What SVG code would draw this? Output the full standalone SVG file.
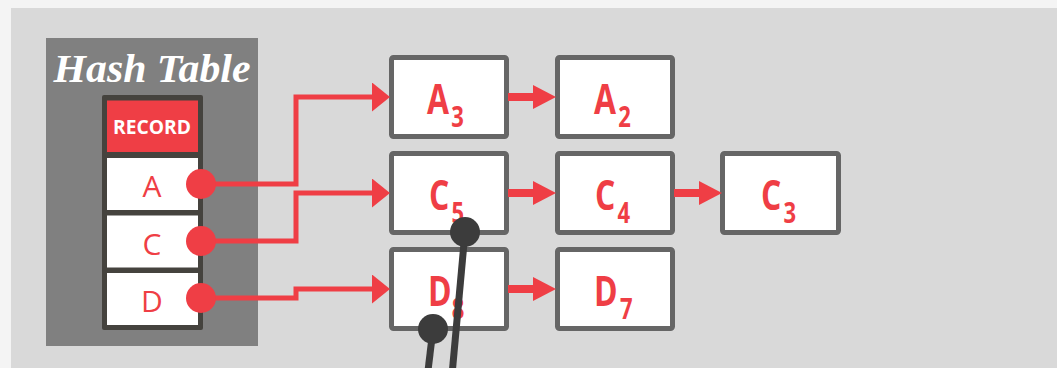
<svg xmlns="http://www.w3.org/2000/svg" width="1057" height="368" viewBox="0 0 1057 368">
<defs>
<style>
.box{fill:#fff;stroke:#666;stroke-width:5}
.cell{fill:#fff}
.lbl{font-family:"Open Sans","Liberation Sans",sans-serif;font-weight:bold;font-size:42px;fill:#ef3e45}
.sub{font-size:29px}
.key{font-family:"Open Sans","Liberation Sans",sans-serif;font-size:30px;fill:#ef3e45;text-anchor:middle}
.hl{fill:none;stroke:#ef3e45;stroke-width:5}
.cl{fill:none;stroke:#ef3e45;stroke-width:8}
.dot{fill:#ef3e45}
.ptr{stroke:#3c3c3c;stroke-width:7;fill:none}
.pdot{fill:#3c3c3c}
</style>
<marker id="hh" markerUnits="userSpaceOnUse" markerWidth="18" markerHeight="29" refX="8" refY="14.5" orient="auto"><path d="M0,0 L18,14.5 L0,29 z" fill="#ef3e45"/></marker>
<marker id="ch" markerUnits="userSpaceOnUse" markerWidth="23" markerHeight="24" refX="7" refY="12" orient="auto"><path d="M0,0 L23,12 L0,24 z" fill="#ef3e45"/></marker>
</defs>
<rect x="0" y="0" width="1057" height="368" fill="#f4f4f4"/>
<rect x="11" y="8" width="1046" height="360" fill="#d9d9d9"/>
<g id="hashtable">
<rect x="46" y="38" width="212" height="308" fill="#808080"/>
<text x="152" y="82" text-anchor="middle" font-family="'Liberation Serif',serif" font-style="italic" font-weight="bold" font-size="40" fill="#fff" textLength="197" lengthAdjust="spacingAndGlyphs">Hash Table</text>
<rect x="102" y="95" width="101" height="235" rx="2" fill="#45433e"/>
<rect x="107" y="100.5" width="91" height="51.5" fill="#ef3e45"/>
<text x="152" y="134" text-anchor="middle" font-family="'Open Sans','Liberation Sans',sans-serif" font-weight="bold" font-size="19.5" fill="#fff" textLength="78" lengthAdjust="spacingAndGlyphs">RECORD</text>
<rect class="cell" x="107" y="158" width="91" height="52"/>
<rect class="cell" x="107" y="215.5" width="91" height="52"/>
<rect class="cell" x="107" y="273" width="91" height="52"/>
<text class="key" x="152" y="197">A</text>
<text class="key" x="152" y="254.5">C</text>
<text class="key" x="152" y="312">D</text>
</g>
<g id="A3"><rect class="box" x="391.5" y="57.5" width="115" height="79" rx="2"/><text class="lbl" transform="translate(427,114) scale(0.76,1)">A<tspan class="sub" dx="3" dy="13">3</tspan></text></g>
<g id="A2"><rect class="box" x="557.5" y="57.5" width="115" height="79" rx="2"/><text class="lbl" transform="translate(594,114) scale(0.76,1)">A<tspan class="sub" dx="3" dy="13">2</tspan></text></g>
<g id="C5"><rect class="box" x="391.5" y="153.5" width="115" height="79" rx="2"/><text class="lbl" transform="translate(429,210) scale(0.76,1)">C<tspan class="sub" dx="3" dy="13">5</tspan></text></g>
<g id="C4"><rect class="box" x="557.5" y="153.5" width="115" height="79" rx="2"/><text class="lbl" transform="translate(595,210) scale(0.76,1)">C<tspan class="sub" dx="3" dy="13">4</tspan></text></g>
<g id="C3"><rect class="box" x="722.5" y="153.5" width="116" height="79" rx="2"/><text class="lbl" transform="translate(761,210) scale(0.76,1)">C<tspan class="sub" dx="3" dy="13">3</tspan></text></g>
<g id="D8"><rect class="box" x="391.5" y="249.5" width="115" height="79" rx="2"/><text class="lbl" transform="translate(428,306) scale(0.76,1)">D<tspan class="sub" dx="0" dy="13">8</tspan></text></g>
<g id="D7"><rect class="box" x="557.5" y="249.5" width="115" height="79" rx="2"/><text class="lbl" transform="translate(594,306) scale(0.76,1)">D<tspan class="sub" dx="3" dy="13">7</tspan></text></g>
<g id="connectors">
<path class="hl" d="M201,184 H296 V97 H380" marker-end="url(#hh)"/>
<path class="hl" d="M201,241 H296 V193 H380" marker-end="url(#hh)"/>
<path class="hl" d="M201,298 H296 V289 H380" marker-end="url(#hh)"/>
<circle class="dot" cx="201" cy="184" r="15"/>
<circle class="dot" cx="201" cy="241" r="15"/>
<circle class="dot" cx="201" cy="298" r="15"/>
<path class="cl" d="M508,97 H540" marker-end="url(#ch)"/>
<path class="cl" d="M508,193 H540" marker-end="url(#ch)"/>
<path class="cl" d="M674,193 H706" marker-end="url(#ch)"/>
<path class="cl" d="M508,289 H540" marker-end="url(#ch)"/>
<path class="ptr" d="M465,232 L452,375"/>
<circle class="pdot" cx="465" cy="232" r="15"/>
<path class="ptr" d="M433,329 L427.5,375"/>
<circle class="pdot" cx="433" cy="329" r="15"/>
</g>
</svg>
